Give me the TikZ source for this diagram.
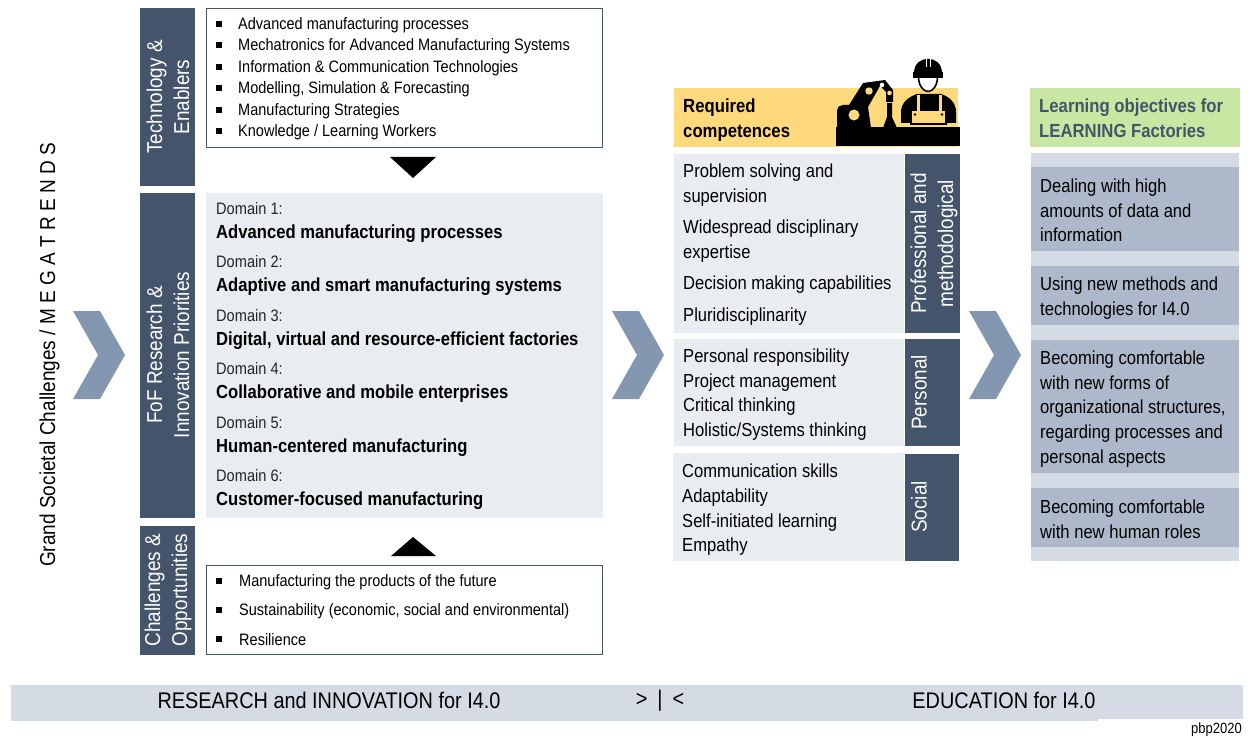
\documentclass[tikz,border=0pt]{standalone}
\usepackage{fontspec}
\setmainfont{Liberation Sans}
\usetikzlibrary{calc}
\definecolor{slate}{HTML}{44546A}
\definecolor{paneA}{HTML}{E9ECF1}
\definecolor{barC}{HTML}{D5DBE5}
\definecolor{chev}{HTML}{8497B0}
\definecolor{objD}{HTML}{ADB9CA}
\definecolor{yel}{HTML}{FFD97B}
\definecolor{grn}{HTML}{C9E6A3}
\newfontfamily\nar[FakeStretch=0.88]{Liberation Sans}
\tikzset{x=1pt,y=-1pt,
 txt/.style={anchor=west,inner sep=0pt,font=\nar\fontsize{18.85}{24.6}\selectfont,text=black,align=left},
 lst/.style={txt,font=\nar\fontsize{16.5}{18}\selectfont},
 dom/.style={txt,font=\nar\fontsize{16.6}{18}\selectfont,text=black!85},
 domb/.style={txt,font=\nar\fontsize{18.9}{20}\selectfont\bfseries},
 headb/.style={txt,font=\nar\fontsize{19}{25}\selectfont\bfseries},
 sidelab/.style={inner sep=0pt,rotate=90,text=white,align=center,font=\nar\fontsize{21.5}{27}\selectfont},
 foot/.style={inner sep=0pt,font=\nar\fontsize{22.6}{26}\selectfont},
 framebox/.style={draw=slate,line width=1pt,fill=white},
 chevron/.style={fill=chev,draw=none},
 tri/.style={fill=black,draw=none}}
\newcommand\chevshape[1]{\fill[chevron] (#1) -- ++(27,0) -- ++(25,44) -- ++(-25,44) -- ++(-27,0) -- ++(25,-44) -- cycle;}
\begin{document}
\begin{tikzpicture}
\useasboundingbox (0,0) rectangle (1248,738);
% left label
\node[inner sep=0pt,rotate=90,font=\nar\fontsize{21.6}{24}\selectfont] (mega) at (49.5,355) {Grand Societal Challenges / M E G A T R E N D S};
\coordinate (c1) at (73,311); \chevshape{c1}
\coordinate (c2) at (612,311); \chevshape{c2}
\coordinate (c3) at (969,311); \chevshape{c3}
% side bars
\fill[slate] (140,8) rectangle (195,186);
\node[sidelab] (te) at (168,97) {Technology \&\\Enablers};
\fill[slate] (140,193) rectangle (195,518);
\node[sidelab] (fof) at (168,355) {FoF Research \&\\Innovation Priorities};
\fill[slate] (140,526) rectangle (195,655);
\node[sidelab] (co) at (168,590) {Challenges \&\\Opportunities};
% top list
\draw[framebox] (206.5,8.5) rectangle (602.5,147.5);
\foreach \y/\t in {24/{Advanced manufacturing processes},45/{Mechatronics for Advanced Manufacturing Systems},67/{Information \& Communication Technologies},88/{Modelling, Simulation \& Forecasting},110/{Manufacturing Strategies},131/{Knowledge / Learning Workers}}{
  \fill (216,\y-2.7) rectangle +(5.5,5.5);
  \node[lst] at (238,\y+1.2) {\t};
}
\fill[tri] (390,157) -- (436,157) -- (413,178) -- cycle;
% domains
\fill[paneA] (206,193) rectangle (603,518);
\foreach \y/\n/\t in {209/1/{Advanced manufacturing processes},262/2/{Adaptive and smart manufacturing systems},316/3/{Digital, virtual and resource-efficient factories},369/4/{Collaborative and mobile enterprises},423/5/{Human-centered manufacturing},476/6/{Customer-focused manufacturing}}{
  \node[dom] at (216,\y) {Domain \n:};
  \node[domb] at (216,\y+24.5) {\t};
}
\fill[tri] (391,556) -- (436,556) -- (413,537) -- cycle;
% bottom list
\draw[framebox] (206.5,565.5) rectangle (602.5,654.5);
\foreach \y/\t in {581/{Manufacturing the products of the future},610/{Sustainability (economic, social and environmental)},639/{Resilience}}{
  \fill (216,\y-2.7) rectangle +(5.5,5.5);
  \node[lst] at (239,\y+1) {\t};
}
% competences
\fill[yel] (674,88) rectangle (958,147);
\node[headb] (rc) at (683,120) {Required\\competences};
% icon: base and robot
\fill[black] (836,127) rectangle (960,146.5);
\fill[black] (837,128) -- (837,110) .. controls (837,107) and (840,105) .. (843,105) -- (849,105) -- (863,83) -- (885,80) -- (893,90) -- (893,102) -- (886,102) -- (886,92) -- (880,86) -- (868,107) -- (871,128) -- cycle;
\fill[black] (887,103) -- (892,103) -- (892,117) -- (897,128) -- (883,128) -- (887,117) -- cycle;
\fill[yel] (854,115) circle (5.5);
\fill[yel] (869,91) circle (3.7);
\fill[white] (882,85) circle (2.3);
\fill[yel] (889.5,93) circle (2.3);
% icon: worker
\fill[black] (901,123) -- (901,112) .. controls (901,103) and (908,97) .. (917,94) -- (941,94) .. controls (950,97) and (956,103) .. (956,112) -- (956,123) -- (947,123) -- (947,125) -- (910,125) -- (910,123) -- cycle;
\fill[yel] (912,111) rectangle (945,123);
\fill[yel] (917,95) rectangle (919.5,111.5);
\fill[yel] (939,95) rectangle (941.5,111.5);
\fill[black] (915,114.5) circle (1.4);
\fill[black] (942,114.5) circle (1.4);
\fill[white,draw=black,line width=1.6pt] (918.5,77) -- (937.5,77) .. controls (937.5,85) and (933,91.5) .. (928,91.5) .. controls (923,91.5) and (918.5,85) .. (918.5,77) -- cycle;
\fill[black] (914,73) .. controls (914,54) and (942,54) .. (942,73) -- cycle;
\fill[black] (913,72) rectangle (943,78);
\fill[white] (926,59) rectangle (927.2,67);
\fill[white] (929.6,59) rectangle (930.8,67);
% competence panels
\fill[paneA] (674,154) rectangle (904,333);
\fill[slate] (905,154) rectangle (960,333);
\node[sidelab] (pm) at (934,243.5) {Professional and\\methodological};
\node[txt] (p1) at (683,185) {Problem solving and\\supervision};
\node[txt] (p2) at (683,241) {Widespread disciplinary\\expertise};
\node[txt] (p3) at (683,285) {Decision making capabilities};
\node[txt] (p4) at (683,317) {Pluridisciplinarity};
\fill[paneA] (674,339) rectangle (904,446);
\fill[slate] (905,339) rectangle (960,446);
\node[sidelab] (pe) at (919,392.5) {Personal};
\node[txt] (q) at (683,394.5) {Personal responsibility\\Project management\\Critical thinking\\Holistic/Systems thinking};
\fill[paneA] (673,453) rectangle (904,561);
\fill[slate] (905,454) rectangle (959,561);
\node[sidelab] (so) at (919,507) {Social};
\node[txt] (s) at (682,510) {Communication skills\\Adaptability\\Self-initiated learning\\Empathy};
% objectives
\fill[grn] (1030,88) rectangle (1240,147);
\node[headb,text=slate] (lo) at (1039,118.5) {Learning objectives for\\LEARNING Factories};
\fill[barC] (1031,153) rectangle (1239,561);
\fill[objD] (1031,167) rectangle (1239,251);
\fill[objD] (1031,266) rectangle (1239,325);
\fill[objD] (1031,340) rectangle (1239,473);
\fill[objD] (1031,488) rectangle (1239,547);
\node[txt] (o1) at (1040,210.5) {Dealing with high\\amounts of data and\\information};
\node[txt] (o2) at (1040,298) {Using new methods and\\technologies for I4.0};
\node[txt] (o3) at (1040,409) {Becoming comfortable\\with new forms of\\organizational structures,\\regarding processes and\\personal aspects};
\node[txt] (o4) at (1040,519) {Becoming comfortable\\with new human roles};
% footer
\fill[barC] (11,685) rectangle (1243,721);
\fill[white] (1098,719) rectangle (1243,721);
\node[foot] (r) at (329,700) {RESEARCH and INNOVATION for I4.0};
\node[foot] (m) at (660,701) {>\hspace{10pt}|\hspace{10pt}<};
\node[foot] (e) at (1004,700) {EDUCATION for I4.0};
\node[inner sep=0pt,anchor=east,font=\nar\fontsize{14.8}{16}\selectfont] (p) at (1242,730) {pbp2020};
\end{tikzpicture}
\end{document}
